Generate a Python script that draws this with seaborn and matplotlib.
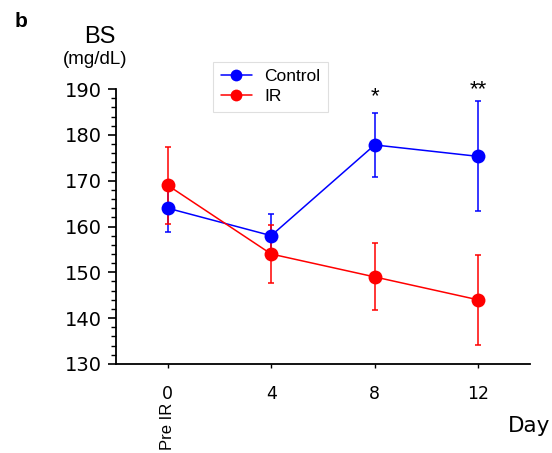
import numpy as np
import pandas as pd
import matplotlib
matplotlib.use("Agg")
import matplotlib.pyplot as plt
import seaborn as sns

# values (mean +/- error)
days = [0, 4, 8, 12]
control_mean = [164.0, 158.0, 177.8, 175.3]
control_err = [5.2, 4.7, 6.9, 12.0]
ir_mean = [169.0, 154.0, 149.0, 144.0]
ir_err = [8.4, 6.3, 7.3, 9.8]
stars = {8: "*", 12: "**"}
star_y = [188.3, 189.8]

sns.set_style("ticks")
plt.rcParams['font.family'] = ['Liberation Sans', 'DejaVu Sans']
plt.rcParams['text.color'] = 'black'
plt.rcParams['xtick.color'] = 'black'
plt.rcParams['ytick.color'] = 'black'
plt.rcParams['axes.edgecolor'] = 'black'

df = pd.DataFrame({
    "Day": days * 2,
    "BS": control_mean + ir_mean,
    "Group": ["Control"] * 4 + ["IR"] * 4,
})
palette = {"Control": "#0000ff", "IR": "#ff0000"}

fig = plt.figure(figsize=(5.52, 4.53), dpi=100)
ax = fig.add_axes([0.210, 0.1965, 0.750, 0.607])

# error bars first so the markers sit on top
for grp, mean, err in [("Control", control_mean, control_err), ("IR", ir_mean, ir_err)]:
    ax.errorbar(days, mean, yerr=err, fmt="none", ecolor=palette[grp],
                elinewidth=1.1, capsize=2.5, capthick=1.1, zorder=2)

sns.lineplot(data=df, x="Day", y="BS", hue="Group", palette=palette,
             marker="o", markersize=10, markeredgewidth=0, linewidth=1.1,
             ax=ax, zorder=3, legend=True)

for (d, s), y in zip(stars.items(), star_y):
    ax.text(d, y, s, ha="center", va="center", fontsize=16, clip_on=False)

ax.set_xlim(-2, 14)
ax.set_ylim(130, 190)
ax.set_xticks(days)
ax.set_xticklabels([str(d) for d in days], family="DejaVu Sans", fontsize=12.5)
ax.set_yticks(np.arange(130, 191, 10))
ax.set_yticks(np.arange(130, 191, 2), minor=True)
ax.tick_params(axis="y", which="major", length=6, width=1.2, labelsize=14, pad=4)
ax.tick_params(axis="y", which="minor", length=3.5, width=1.0)
ax.tick_params(axis="x", which="major", length=3, width=1.0, pad=12)
for lab in ax.get_yticklabels():
    lab.set_family("DejaVu Sans")
ax.set_xlabel("")
ax.set_ylabel("")
sns.despine(ax=ax)
ax.spines["left"].set_linewidth(1.3)
ax.spines["bottom"].set_linewidth(1.3)

ax.text(0, 121.6, "Pre IR", rotation=90, ha="center", va="top",
        fontsize=12, clip_on=False)

leg = ax.legend(loc="upper left", bbox_to_anchor=(0.234, 1.10), fontsize=12.5,
                frameon=True, handlelength=1.8, borderpad=0.45, labelspacing=0.25,
                handletextpad=0.7, borderaxespad=0, markerscale=0.85)
leg.get_frame().set_edgecolor("#d8d8d8")
leg.get_frame().set_linewidth(0.8)
leg.get_frame().set_boxstyle("square", pad=0)

fig.text(0.027, 0.952, "b", fontsize=15, fontweight="bold", va="center")
fig.text(0.180, 0.918, "BS", fontsize=17, ha="center", va="center")
fig.text(0.172, 0.868, "(mg/dL)", fontsize=13.5, ha="center", va="center")
fig.text(0.920, 0.060, "Day", fontsize=15.5, ha="left", va="center", family="DejaVu Sans")

fig.savefig("out.png", dpi=100)
